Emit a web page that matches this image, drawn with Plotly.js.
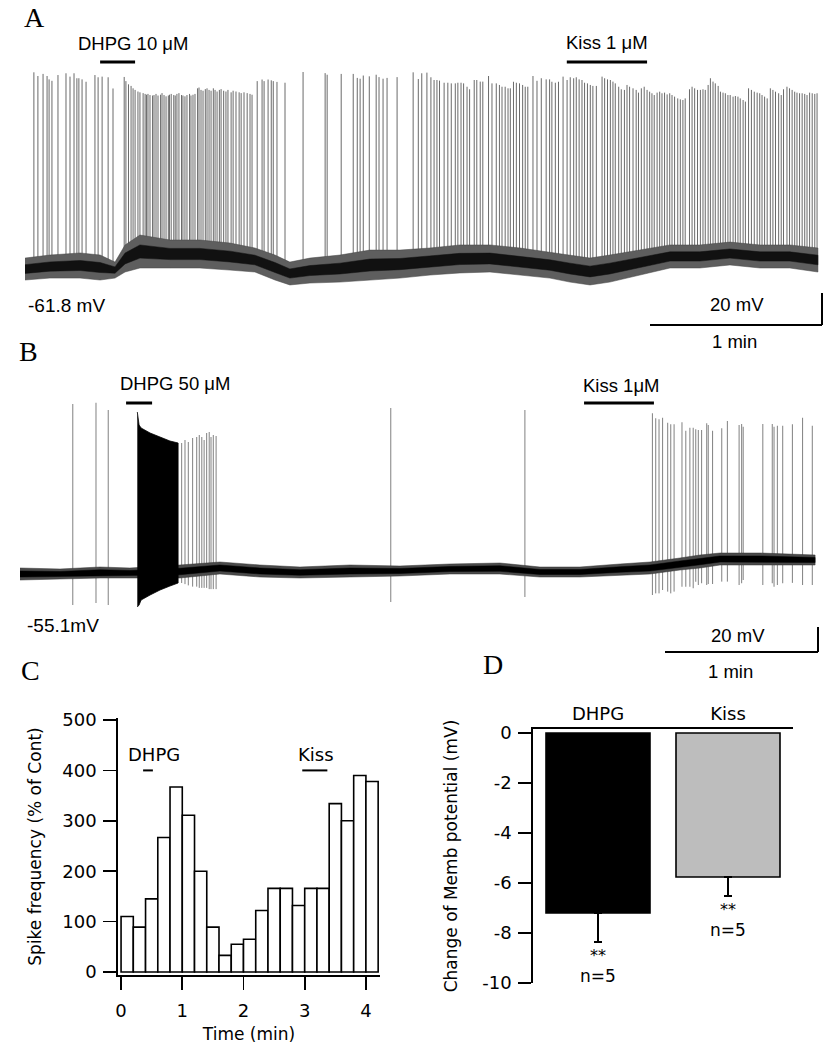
<!DOCTYPE html>
<html><head><meta charset="utf-8">
<script src="https://cdn.plot.ly/plotly-3.0.1.min.js"></script>
<style>html,body{margin:0;padding:0;background:#fff}#chart{width:833px;height:1050px}</style>
</head><body><div id="chart"></div>
<script>
// ---------------- DATA ----------------
// Panel A: recording (time in s, membrane potential in mV)
const aRestLabel = '-61.8 mV';
const aBaseT  = [0, 8.7, 19.2, 26.2, 31.4, 34.9, 40.1, 50.6, 61.0, 71.5, 80.2, 87.2, 92.4, 99.4, 109.9, 120.3, 130.8, 141.3, 151.7, 162.2, 172.7, 183.1, 190.1, 197.1, 204.0, 214.5, 225.0, 235.4, 245.9, 256.4, 266.8, 276.6];
const aBaseHi = [-55.6,-53.7,-52.4,-53.7,-58.1,-47.4,-41.2,-44.3,-44.3,-46.2,-49.3,-53.7,-58.1,-55.6,-53.7,-50.6,-50.6,-49.3,-47.4,-47.4,-49.3,-51.8,-53.7,-55.6,-53.7,-50.6,-47.4,-47.4,-45.6,-47.4,-47.4,-49.3];
const aBaseLo = [-69.3,-68.1,-68.1,-69.3,-68.1,-64.3,-61.8,-61.8,-61.8,-63.1,-64.3,-69.3,-72.4,-71.2,-70.6,-69.3,-68.1,-66.2,-64.9,-64.3,-66.2,-68.1,-70.6,-72.4,-70.6,-66.2,-61.8,-61.8,-59.9,-61.8,-61.8,-64.3];
const aSpikeT = [
 3.1,4.5,6.3,7.7,8.4,9.4,11.5,14.3,15.7,17.1,18.1,18.8,19.9,21.3,24.4,25.5,26.9,29.0,30.7,
 34.6,35.2,36.1,37.0,37.7,38.4,39.4,40.1,41.2,41.9,42.4,42.9,43.6,44.5,45.0,45.7,46.4,47.3,47.8,48.5,
 49.2,50.0,50.4,51.0,51.9,52.4,53.0,53.7,54.6,55.1,55.8,56.5,57.4,57.9,58.6,59.3,60.2,60.7,61.4,62.1,
 62.9,63.5,64.2,64.9,65.7,66.3,67.0,67.8,68.4,69.3,70.1,70.8,71.9,72.6,73.6,74.7,75.4,76.4,77.5,78.5,79.2,
 81.0,82.7,83.4,84.8,85.9,86.6,87.9,90.7,97.0,104.7,105.4,110.3,114.5,115.9,116.9,118.0,120.1,122.5,123.5,124.9,126.3,129.8,135.4,137.2,
 138.4,140.2,141.6,142.7,143.7,144.6,146.2,147.5,148.7,150.1,
 151.0,152.1,153.0,154.2,155.1,156.7,157.6,158.8,159.7,161.7,
 162.9,164.4,165.5,166.4,167.5,168.5,169.3,170.4,171.4,172.5,
 173.6,174.5,175.4,177.2,178.6,180.1,181.8,183.0,183.8,185.0,
 186.1,187.7,189.1,190.2,191.4,192.3,193.3,194.3,195.2,196.2,
 197.2,198.1,199.3,201.3,202.2,203.2,204.2,205.1,205.9,207.1,
 208.0,209.1,210.0,210.9,212.1,213.2,214.0,215.0,216.0,217.0,
 217.9,218.7,219.5,220.5,221.4,222.2,223.1,224.0,224.9,225.7,
 226.6,227.7,228.6,229.5,230.3,231.8,232.7,233.6,234.6,235.6,
 236.5,237.3,238.3,239.1,240.0,240.8,241.8,242.6,243.5,244.3,
 245.2,246.0,247.0,247.8,248.7,249.5,250.5,251.3,252.4,253.4,
 254.4,255.4,256.3,257.1,258.0,258.9,260.0,260.9,261.8,262.9,
 263.8,264.6,265.8,266.7,267.6,268.5,269.3,270.2,271.1,272.0,
 272.8,273.7,274.6,275.5,276.3];
const aSpikePeak = [
 60.5,58.2,59.5,58.2,56.1,55.2,58.8,59.9,57.8,59.9,56.8,56.8,56.1,54.6,58.8,57.4,57.8,57.4,50.4,
 57.6,55,53,52,50.5,49.5,48.5,48,47.5,47,46.5,47,46.3,46,46.3,47,46,46.5,47.5,46.3,
 45.5,46,46.5,47,46.3,46,47,47.5,46.3,46,45.5,46.3,47,46,46.5,47,50.5,51,49.5,49,
 50,50.5,49.5,49,50.5,49.5,48.5,49.5,50,49,48.5,49.5,48,49,48.5,48,47.5,48,47.5,47,46.5,
 55,56,55,56,55.5,55,54.5,54,60.7,60,59,59.5,59.5,57,56.5,58.5,58,59,57.5,56.5,57,57.5,60.5,56.3,
 59.9,60.3,57.4,55.7,55.7,55.3,54.0,54.0,53.6,53.6,
 54.0,54.0,53.6,51.5,49.9,55.7,55.7,54.7,54.7,58.2,
 53.6,53.6,52.6,51.5,51.5,50.5,50.5,54.6,54.0,53.6,
 52.6,51.5,51.5,58.2,55.2,56.8,56.1,56.1,54.6,54.0,
 54.6,57.8,55.7,57.4,56.8,57.4,56.1,55.7,54.0,53.6,
 52.6,52.0,52.0,57.8,56.8,56.1,55.7,54.7,53.6,51.5,
 49.9,49.5,52.6,51.5,50.5,49.5,47.8,50.5,51.5,49.5,
 48.4,47.4,46.3,47.8,48.4,47.4,47.8,46.7,47.4,46.3,
 45.3,44.2,43.6,43.2,44.2,49.9,51.5,50.5,49.5,49.5,
 49.9,49.5,52.6,56.8,54.7,53.6,52.0,48.4,47.8,47.4,
 46.3,46.3,45.3,45.7,45.3,44.2,43.2,42.2,50.5,49.5,
 48.4,47.8,47.4,46.3,45.3,44.2,50.5,49.5,48.4,47.4,
 46.3,49.9,51.5,50.5,49.5,48.4,47.8,47.4,47.4,47.0,
 46.3,47.8,47.4,47.0,47.4];
const aDrugLabel = ['DHPG 10 μM', 'Kiss 1 μM'];
const aDrugStart = [26.2, 189.0];
const aDrugEnd   = [38.4, 217.0];

// Panel B
const bRestLabel = '-55.1mV';
const bBaseT  = [0, 15.7, 31.4, 43.1, 62.7, 78.4, 94.1, 109.8, 129.4, 149.0, 168.6, 188.2, 203.9, 219.6, 235.3, 247.1, 258.8, 266.7, 274.5, 290.2, 311.8];
const bBaseHi = [-51.1,-51.9,-50.3,-51.1,-48.7,-46.3,-48.7,-50.3,-48.7,-49.5,-47.9,-47.1,-50.3,-50.3,-47.9,-46.3,-43.1,-40.7,-39.1,-39.1,-40.7];
const bBaseLo = [-60.7,-59.9,-59.1,-59.1,-59.1,-55.9,-58.3,-59.1,-58.3,-57.5,-55.9,-55.9,-58.3,-58.3,-56.7,-55.9,-52.7,-51.1,-48.7,-48.7,-48.7];
const bBurstT  = [46.0, 46.7, 47.5, 51.0, 54.9, 58.8, 62.0];
const bBurstHi = [73.7, 63.3, 60.9, 56.9, 53.7, 50.5, 48.9];
const bBurstLo = [-82.3, -80.7, -76.7, -72.7, -68.7, -65.5, -63.1];
const bSpikeT = [20.7, 29.8, 34.6,
 63.4, 64.7, 66.0, 67.7, 69.3, 70.3, 71.3, 72.2, 73.2, 74.2, 74.9, 75.8, 76.9,
 145.4, 198.0,
 248.0, 249.3, 250.6, 252.0, 254.0, 255.2, 256.5, 259.6, 261.1, 262.7, 264.0, 265.0, 266.0, 267.3, 269.3,
 269.9, 271.6, 275.2, 277.4, 282.0, 283.0, 283.6, 291.3, 295.0, 295.7, 297.0, 299.1, 302.9, 306.9, 310.7];
const bSpikePeak = [80.1, 81.1, 75.3,
 48.9, 51.3, 49.7, 52.9, 53.7, 55.3, 53.7, 51.3, 56.9, 57.7, 53.7, 55.3, 54.5,
 76.9, 75.3,
 72.7, 68.7, 67.9, 69.1, 65.1, 63.9, 63.9, 65.5, 58.7, 61.1, 61.1, 59.9, 59.3, 59.3, 64.7,
 63.3, 58.7, 60.7, 66.5, 63.3, 64.1, 61.9, 64.1, 64.1, 61.9, 62.7, 62.7, 63.9, 69.1, 62.7];
const bSpikeTrough = [-80.7, -79.1, -80.7,
 -63.1, -64.0, -65.0, -66.0, -66.0, -67.0, -67.0, -67.0, -67.0, -68.0, -68.0, -68.0, -68.0,
 -78.3, -74.3,
 -72.7, -71.4, -71.4, -68.7, -70.0, -71.4, -70.0, -66.1, -66.1, -66.1, -67.3, -62.1, -64.7, -63.3, -64.7,
 -63.9, -63.9, -62.0, -62.0, -64.7, -63.3, -60.7, -64.7, -63.3, -66.1, -64.7, -63.3, -63.0, -64.7, -64.7];
const bDrugLabel = ['DHPG 50 μM', 'Kiss 1μM'];
const bDrugStart = [41.6, 221.2];
const bDrugEnd   = [51.8, 248.6];

// Scale bars (A and B)
const scaleMV = 20;      // mV
const scaleSec = 60;     // s (1 min)
const scaleLabels = ['20 mV', '1 min'];

// Panel C: spike frequency histogram
const cBinCenter = [0.1,0.3,0.5,0.7,0.9,1.1,1.3,1.5,1.7,1.9,2.1,2.3,2.5,2.7,2.9,3.1,3.3,3.5,3.7,3.9,4.1];
const cBinWidth = 0.2;
const cFreq = [110, 89, 145, 267, 367, 311, 200, 89, 33, 55, 65, 122, 166, 166, 132, 166, 166, 334, 300, 390, 378];
const cTickVals = [0, 1, 2, 3, 4];
const cYTickVals = [0, 100, 200, 300, 400, 500];
const cDrugLabel = ['DHPG', 'Kiss'];
const cDrugStart = [0.36, 2.96];
const cDrugEnd = [0.52, 3.37];

// Panel D: change of membrane potential
const dCats = ['DHPG', 'Kiss'];
const dMean = [-7.2, -5.76];
const dSem = [1.16, 0.76];
const dColor = ['#000000', '#bdbdbd'];
const dSig = ['**', '**'];
const dN = ['n=5', 'n=5'];
const dTickVals = [0, -2, -4, -6, -8, -10];

// ---------------- LAYOUT GEOMETRY ----------------
const W = 833, H = 1050;
const fx = p => p / W;
const fy = p => 1 - p / H;
function interp(xs, ys, t) {
  if (t <= xs[0]) return ys[0];
  for (let i = 1; i < xs.length; i++) {
    if (t <= xs[i]) { const f = (t - xs[i-1]) / (xs[i] - xs[i-1]); return ys[i-1] + f * (ys[i] - ys[i-1]); }
  }
  return ys[ys.length - 1];
}
function segs(ts, tops, bots) {
  const x = [], y = [];
  ts.forEach((t, i) => { x.push(t, t, null); y.push(bots[i], tops[i], null); });
  return {x, y};
}
function band(ts, hi, lo) {
  return {x: ts.concat(ts.slice().reverse()), y: hi.concat(lo.slice().reverse())};
}
// darker core of a noise band (a fraction of its width, around its middle)
function core(ts, hi, lo, k) {
  const h = hi.map((v, i) => (v + lo[i]) / 2 + (v - lo[i]) / 2 * k);
  const l = hi.map((v, i) => (v + lo[i]) / 2 - (v - lo[i]) / 2 * k);
  return band(ts, h, l);
}

// calibration of A and B panels (pixel frames)
const A = {t0: 25, pps: 172/60, mvRef: -61.8, pyRef: 268, ppm: 1.6, left: 20, right: 830, top: 40, bottom: 330};
const B = {t0: 20, pps: 153/60, mvRef: -55.1, pyRef: 573, ppm: 1.25, left: 15, right: 830, top: 385, bottom: 660};
function tOf(P, p) { return (p - P.t0) / P.pps; }
function mvOf(P, y) { return P.mvRef + (P.pyRef - y) / P.ppm; }

const aBots = aSpikeT.map(t => interp(aBaseT, aBaseLo, t) + 3);
const aS = segs(aSpikeT, aSpikePeak, aBots);
const aB = band(aBaseT, aBaseHi, aBaseLo);
const aC = core(aBaseT, aBaseHi, aBaseLo, 0.4);
const bS = segs(bSpikeT, bSpikePeak, bSpikeTrough);
const bB = band(bBaseT, bBaseHi, bBaseLo);
const bC = core(bBaseT, bBaseHi, bBaseLo, 0.5);
const bU = band(bBurstT, bBurstHi, bBurstLo);

const skip = {hoverinfo: 'skip', showlegend: false, mode: 'lines'};
const traces = [
  Object.assign({x: aS.x, y: aS.y, line: {color: '#6a6a6a', width: 1}, xaxis: 'x', yaxis: 'y'}, skip),
  Object.assign({x: aB.x, y: aB.y, fill: 'toself', fillcolor: '#5e5e5e', line: {color: '#444', width: 0.5}, xaxis: 'x', yaxis: 'y'}, skip),
  Object.assign({x: aC.x, y: aC.y, fill: 'toself', fillcolor: '#111', line: {color: '#111', width: 0.5}, xaxis: 'x', yaxis: 'y'}, skip),
  Object.assign({x: bS.x, y: bS.y, line: {color: '#808080', width: 1}, xaxis: 'x2', yaxis: 'y2'}, skip),
  Object.assign({x: bB.x, y: bB.y, fill: 'toself', fillcolor: '#4a4a4a', line: {color: '#333', width: 0.5}, xaxis: 'x2', yaxis: 'y2'}, skip),
  Object.assign({x: bC.x, y: bC.y, fill: 'toself', fillcolor: '#000', line: {color: '#000', width: 0.5}, xaxis: 'x2', yaxis: 'y2'}, skip),
  Object.assign({x: bU.x, y: bU.y, fill: 'toself', fillcolor: '#000', line: {color: '#000', width: 0.8}, xaxis: 'x2', yaxis: 'y2'}, skip),
  {type: 'bar', x: cBinCenter, y: cFreq, width: cBinWidth, marker: {color: '#fff', line: {color: '#000', width: 1.6}}, xaxis: 'x3', yaxis: 'y3', showlegend: false},
  {type: 'bar', x: dCats, y: dMean, width: 0.8, marker: {color: dColor, line: {color: '#000', width: 1.6}},
   error_y: {type: 'data', symmetric: false, array: [0, 0], arrayminus: dSem, color: '#000', thickness: 2, width: 4},
   xaxis: 'x4', yaxis: 'y4', showlegend: false}
];

const hidden = {visible: false, showgrid: false, zeroline: false, fixedrange: true};
const sans = 'Liberation Sans, Arial, sans-serif';
const gill = 'DejaVu Sans, sans-serif';
const serif = 'Liberation Serif, Times New Roman, serif';

const shapes = [];
const annotations = [];
function ann(text, xp, yp, size, family, extra) {
  annotations.push(Object.assign({text, x: fx(xp), y: fy(yp), xref: 'paper', yref: 'paper', showarrow: false,
    xanchor: 'center', yanchor: 'middle', font: {family, size, color: '#000'}}, extra || {}));
}
// A: drug bars
const aDrugY = mvOf(A, 62);
aDrugStart.forEach((s, i) => shapes.push({type: 'line', xref: 'x', yref: 'y', x0: s, x1: aDrugEnd[i], y0: aDrugY, y1: aDrugY, line: {color: '#000', width: 3}}));
const bDrugY = mvOf(B, 403);
bDrugStart.forEach((s, i) => shapes.push({type: 'line', xref: 'x2', yref: 'y2', x0: s, x1: bDrugEnd[i], y0: bDrugY, y1: bDrugY, line: {color: '#000', width: 3}}));
// scale bars
[[A, 'x', 'y', 822, 325], [B, 'x2', 'y2', 818, 652]].forEach(([P, xr, yr, cx, cy]) => {
  const t = tOf(P, cx), v = mvOf(P, cy);
  shapes.push({type: 'line', xref: xr, yref: yr, x0: t, x1: t, y0: v, y1: v + scaleMV, line: {color: '#000', width: 2}});
  shapes.push({type: 'line', xref: xr, yref: yr, x0: t - scaleSec, x1: t, y0: v, y1: v, line: {color: '#000', width: 2}});
});
// C drug bars
cDrugStart.forEach((s, i) => shapes.push({type: 'line', xref: 'x3', yref: 'y3', x0: s, x1: cDrugEnd[i], y0: 400, y1: 400, line: {color: '#000', width: 2}}));

// text
ann('A', 34, 17, 28, serif);
ann('B', 28, 351, 28, serif);
ann('C', 31, 670, 28, serif);
ann('D', 493, 664, 28, serif);
ann(aDrugLabel[0], 133, 43, 18.5, sans);
ann(aDrugLabel[1], 607, 42, 18.5, sans);
ann(aRestLabel, 66, 305, 19, sans);
ann(scaleLabels[0], 737, 304, 18.5, sans);
ann(scaleLabels[1], 734, 341, 18.5, sans);
ann(bDrugLabel[0], 175, 383, 18.5, sans);
ann(bDrugLabel[1], 621, 385, 18.5, sans);
ann(bRestLabel, 63, 625, 19, sans);
ann(scaleLabels[0], 738, 635, 18.5, sans);
ann(scaleLabels[1], 730, 671, 18.5, sans);
// C drug labels (data coords)
annotations.push({text: cDrugLabel[0], x: 0.54, y: 432, xref: 'x3', yref: 'y3', showarrow: false, font: {family: gill, size: 18, color: '#000'}});
annotations.push({text: cDrugLabel[1], x: 3.18, y: 432, xref: 'x3', yref: 'y3', showarrow: false, font: {family: gill, size: 18, color: '#000'}});
// D significance
dCats.forEach((c, i) => {
  const end = dMean[i] - dSem[i];
  annotations.push({text: dSig[i], x: c, y: end - 0.55, xref: 'x4', yref: 'y4', showarrow: false, font: {family: gill, size: 16, color: '#000'}});
  annotations.push({text: dN[i], x: c, y: end - 1.36, xref: 'x4', yref: 'y4', showarrow: false, font: {family: gill, size: 17, color: '#000'}});
});

const layout = {
  width: W, height: H, margin: {l: 0, r: 0, t: 0, b: 0}, paper_bgcolor: '#fff', plot_bgcolor: 'rgba(0,0,0,0)',
  showlegend: false, bargap: 0,
  xaxis: Object.assign({}, hidden, {domain: [fx(A.left), fx(A.right)], range: [tOf(A, A.left), tOf(A, A.right)], anchor: 'y'}),
  yaxis: Object.assign({}, hidden, {domain: [fy(A.bottom), fy(A.top)], range: [mvOf(A, A.bottom), mvOf(A, A.top)], anchor: 'x'}),
  xaxis2: Object.assign({}, hidden, {domain: [fx(B.left), fx(B.right)], range: [tOf(B, B.left), tOf(B, B.right)], anchor: 'y2'}),
  yaxis2: Object.assign({}, hidden, {domain: [fy(B.bottom), fy(B.top)], range: [mvOf(B, B.bottom), mvOf(B, B.top)], anchor: 'x2'}),
  xaxis3: {domain: [fx(118), fx(380)], range: [-0.05, 4.23], anchor: 'y3', showline: true, linecolor: '#000', linewidth: 1.8,
    ticks: 'outside', ticklen: 13, tickwidth: 1.8, tickcolor: '#000', tickvals: cTickVals, ticklabelstandoff: 6,
    tickfont: {family: gill, size: 18, color: '#000'}, showgrid: false, zeroline: false, fixedrange: true,
    title: {text: 'Time (min)', font: {family: gill, size: 17, color: '#000'}, standoff: 8}},
  yaxis3: {domain: [fy(975), fy(718)], range: [-6, 504], anchor: 'x3', showline: true, linecolor: '#000', linewidth: 1.8,
    ticks: 'outside', ticklen: 13, tickwidth: 1.8, tickcolor: '#000', tickvals: cYTickVals, ticklabelstandoff: 3,
    tickfont: {family: gill, size: 18, color: '#000'}, showgrid: false, zeroline: false, fixedrange: true,
    title: {text: 'Spike frequency (% of Cont)', font: {family: gill, size: 17, color: '#000'}, standoff: 16}},
  xaxis4: {domain: [fx(533), fx(793)], range: [-0.5, 1.5], type: 'category', side: 'top', anchor: 'y4', showline: true,
    linecolor: '#000', linewidth: 1.8, ticks: '', tickfont: {family: gill, size: 18, color: '#000'}, showgrid: false, zeroline: false, fixedrange: true},
  yaxis4: {domain: [fy(983), fy(729)], range: [-10, 0.16], anchor: 'x4', showline: true, linecolor: '#000', linewidth: 1.8,
    ticks: 'outside', ticklen: 13, tickwidth: 1.8, tickcolor: '#000', tickvals: dTickVals, ticktext: dTickVals.map(v => String(v)),
    ticklabelstandoff: 3, tickfont: {family: gill, size: 18, color: '#000'}, showgrid: false, zeroline: false, fixedrange: true,
    title: {text: 'Change of Memb potential (mV)', font: {family: gill, size: 17, color: '#000'}, standoff: 20}},
  shapes, annotations
};
Plotly.newPlot('chart', traces, layout, {staticPlot: true, displayModeBar: false});
</script></body></html>
